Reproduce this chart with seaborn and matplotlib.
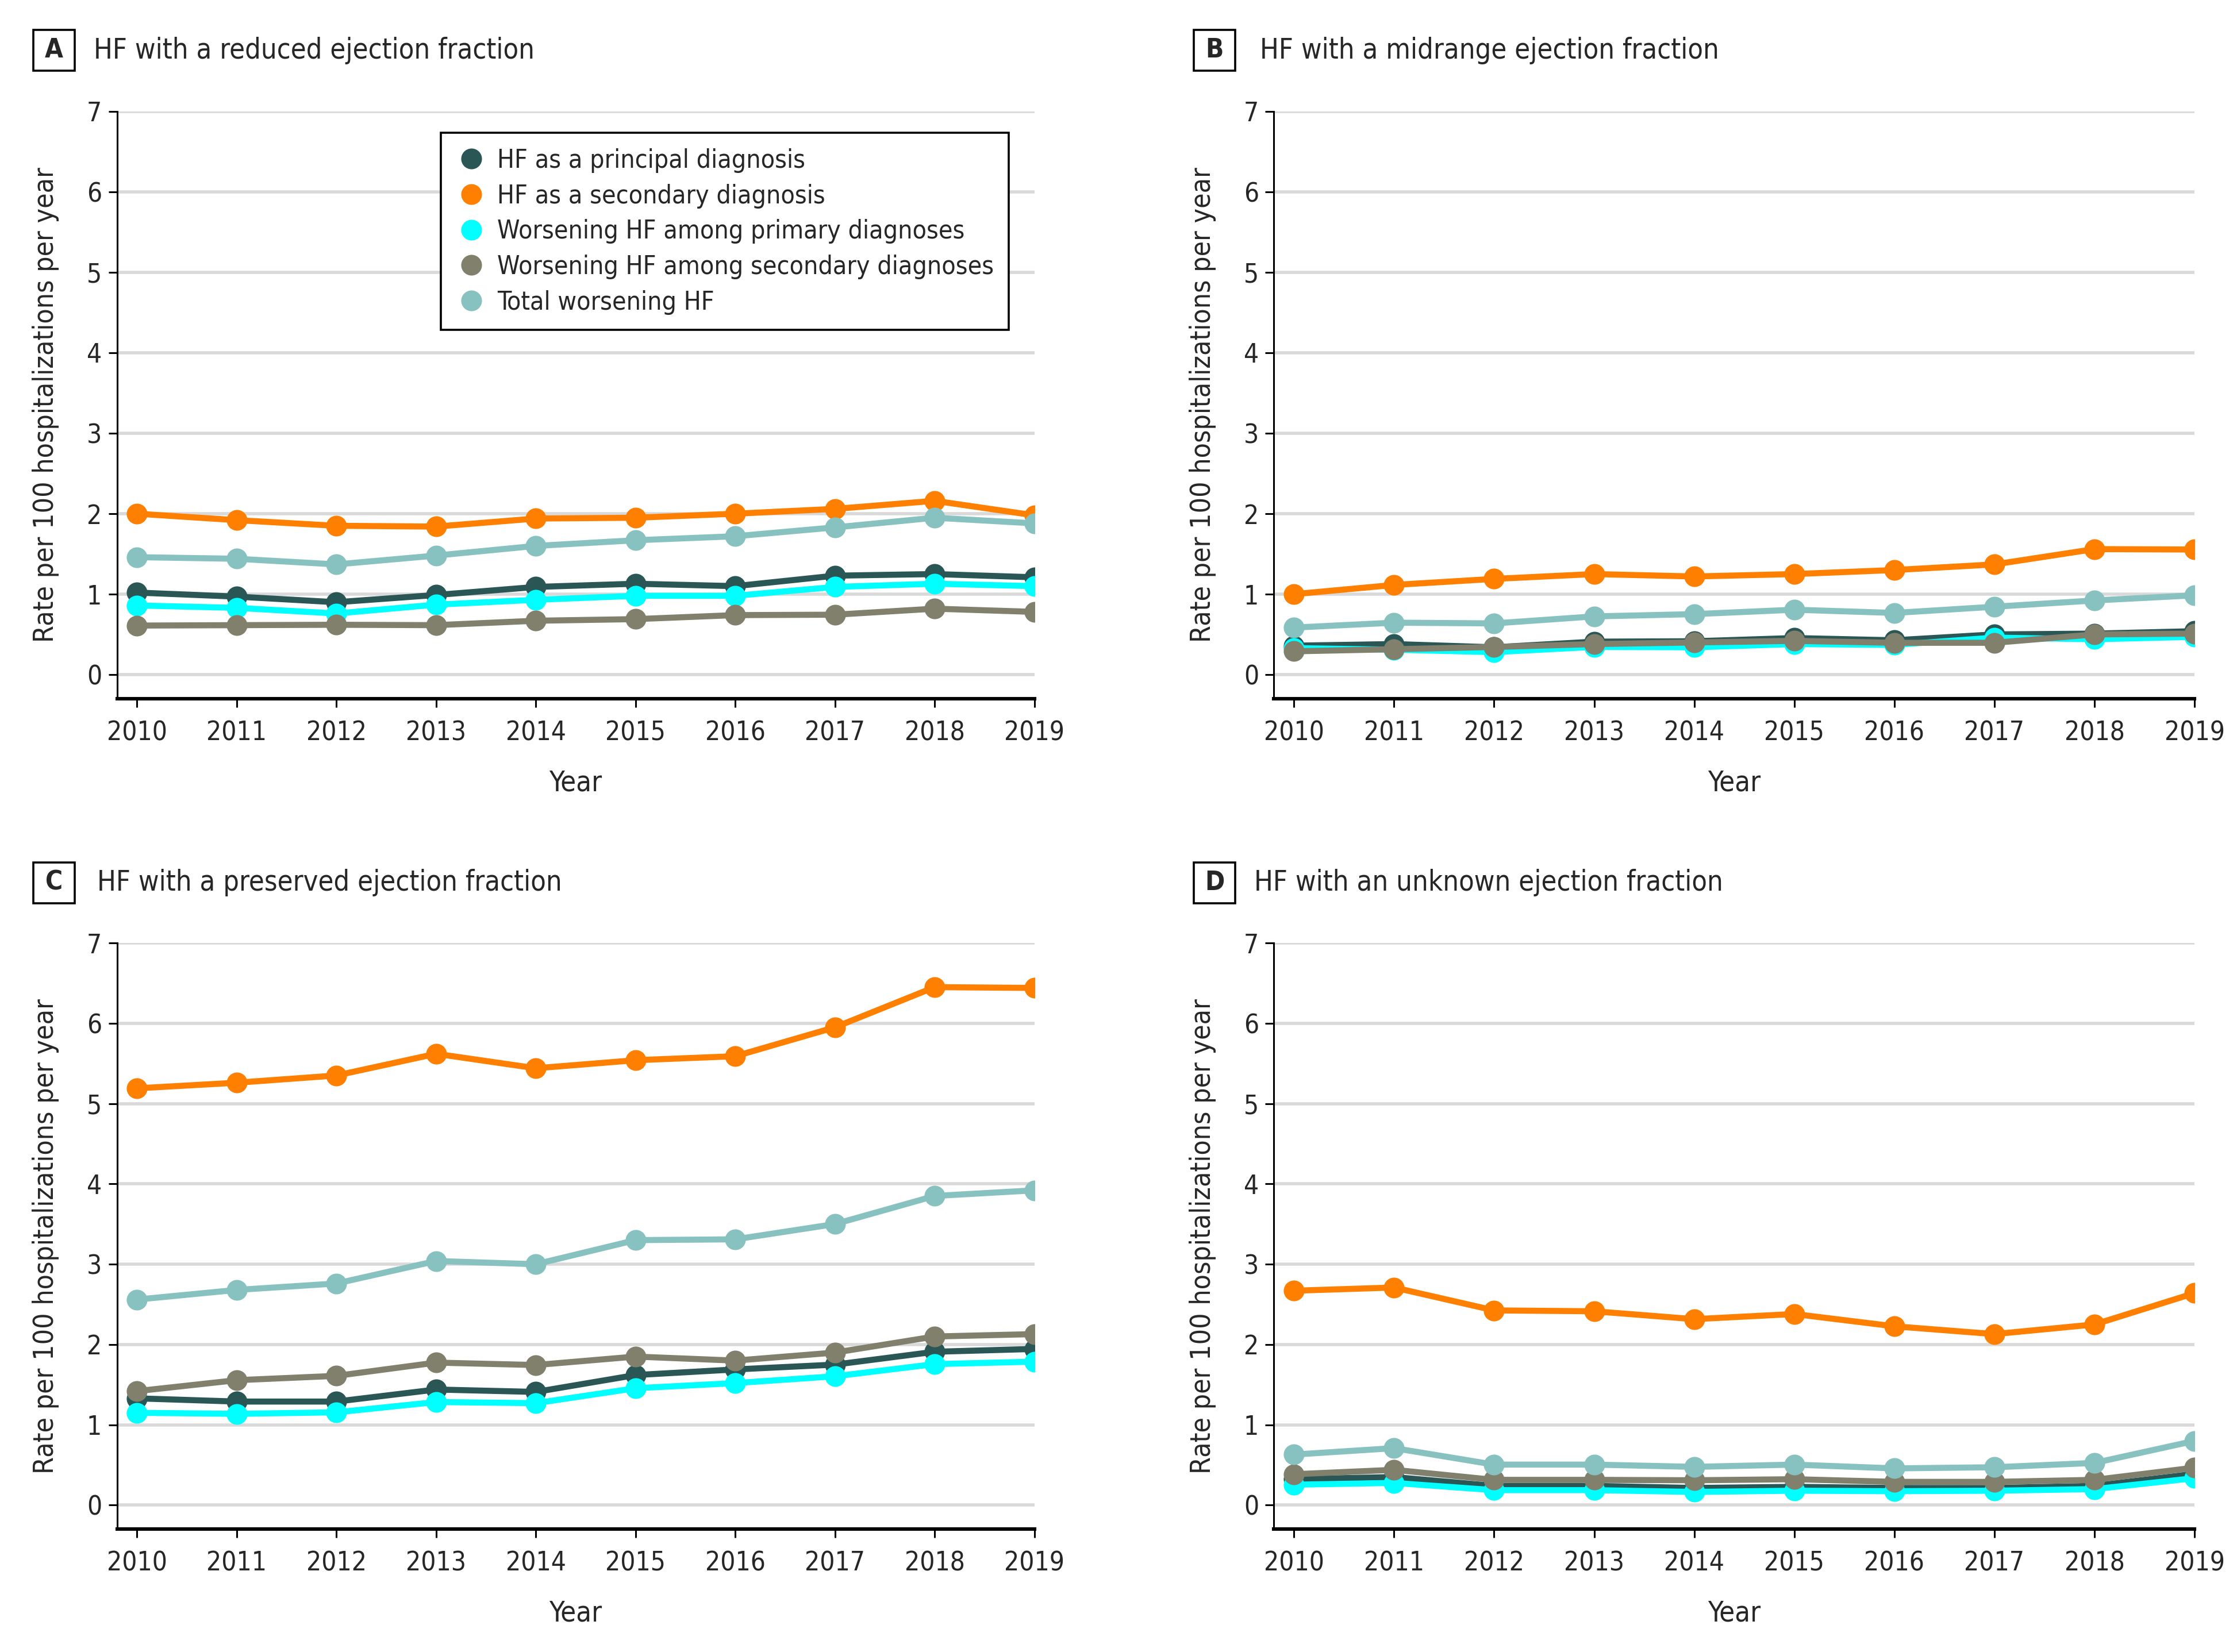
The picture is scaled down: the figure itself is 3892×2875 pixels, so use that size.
import matplotlib
matplotlib.use("Agg")
import matplotlib.pyplot as plt
from matplotlib.lines import Line2D
from matplotlib.patches import Rectangle
import seaborn as sns
import pandas as pd

years = [2010, 2011, 2012, 2013, 2014, 2015, 2016, 2017, 2018, 2019]
series_names = ["HF as a principal diagnosis", "HF as a secondary diagnosis",
                "Worsening HF among primary diagnoses", "Worsening HF among secondary diagnoses",
                "Total worsening HF"]
colors = ["#2a5656", "#ff8000", "#00ffff", "#80806c", "#87c2c0"]

# Panel A: reduced EF
a_principal = [1.02, 0.97, 0.90, 0.99, 1.09, 1.13, 1.10, 1.23, 1.25, 1.21]
a_secondary = [2.00, 1.92, 1.85, 1.84, 1.94, 1.95, 2.00, 2.06, 2.16, 1.98]
a_worse_prim = [0.86, 0.83, 0.76, 0.87, 0.93, 0.98, 0.98, 1.09, 1.13, 1.10]
a_worse_sec = [0.61, 0.615, 0.62, 0.615, 0.67, 0.69, 0.74, 0.745, 0.82, 0.78]
a_total = [1.46, 1.44, 1.37, 1.48, 1.60, 1.67, 1.72, 1.83, 1.95, 1.88]

# Panel B: midrange EF
b_principal = [0.36, 0.38, 0.34, 0.41, 0.415, 0.455, 0.427, 0.50, 0.51, 0.54]
b_secondary = [1.00, 1.115, 1.19, 1.25, 1.22, 1.25, 1.30, 1.37, 1.56, 1.555]
b_worse_prim = [0.33, 0.31, 0.28, 0.345, 0.34, 0.38, 0.37, 0.46, 0.44, 0.47]
b_worse_sec = [0.29, 0.316, 0.344, 0.38, 0.40, 0.42, 0.396, 0.396, 0.50, 0.51]
b_total = [0.585, 0.646, 0.637, 0.724, 0.752, 0.807, 0.767, 0.844, 0.922, 0.986]

# Panel C: preserved EF
c_principal = [1.33, 1.29, 1.29, 1.44, 1.41, 1.62, 1.69, 1.75, 1.91, 1.945]
c_secondary = [5.19, 5.26, 5.35, 5.62, 5.44, 5.54, 5.59, 5.95, 6.45, 6.44]
c_worse_prim = [1.15, 1.137, 1.156, 1.284, 1.27, 1.456, 1.52, 1.605, 1.756, 1.787]
c_worse_sec = [1.42, 1.556, 1.61, 1.775, 1.745, 1.85, 1.80, 1.90, 2.10, 2.13]
c_total = [2.56, 2.68, 2.76, 3.04, 3.00, 3.30, 3.31, 3.50, 3.85, 3.92]

# Panel D: unknown EF
d_principal = [0.323, 0.35, 0.24, 0.24, 0.214, 0.228, 0.214, 0.214, 0.24, 0.39]
d_secondary = [2.67, 2.71, 2.425, 2.414, 2.316, 2.38, 2.227, 2.13, 2.25, 2.64]
d_worse_prim = [0.255, 0.277, 0.187, 0.187, 0.165, 0.18, 0.174, 0.18, 0.20, 0.336]
d_worse_sec = [0.385, 0.44, 0.315, 0.315, 0.31, 0.323, 0.29, 0.29, 0.315, 0.467]
d_total = [0.63, 0.71, 0.505, 0.505, 0.477, 0.505, 0.458, 0.472, 0.526, 0.80]

panel_letters = ["A", "B", "C", "D"]
panel_titles = ["HF with a reduced ejection fraction", "HF with a midrange ejection fraction",
                "HF with a preserved ejection fraction", "HF with an unknown ejection fraction"]
yticks = [0, 1, 2, 3, 4, 5, 6, 7]

panels = [
    [a_principal, a_secondary, a_worse_prim, a_worse_sec, a_total],
    [b_principal, b_secondary, b_worse_prim, b_worse_sec, b_total],
    [c_principal, c_secondary, c_worse_prim, c_worse_sec, c_total],
    [d_principal, d_secondary, d_worse_prim, d_worse_sec, d_total],
]

sns.set_theme(style="white")
plt.rcParams['font.family'] = ['DejaVu Sans']
plt.rcParams['font.stretch'] = 'condensed'

fig = plt.figure(figsize=(19.46, 14.375), dpi=200)
positions = [
    [0.0523, 0.577, 0.4101, 0.3556],
    [0.5695, 0.577, 0.4115, 0.3556],
    [0.0523, 0.0743, 0.4101, 0.3549],
    [0.5695, 0.0743, 0.4115, 0.3549],
]
letter_pos = [(0.02415, 0.9694), (0.5429, 0.9694), (0.02415, 0.4656), (0.5429, 0.4656)]
title_pos = [(0.0419, 0.9694), (0.5632, 0.9694), (0.0435, 0.4656), (0.5606, 0.4656)]
box_w, box_h = 72 / 3892, 71 / 2875

palette = dict(zip(series_names, colors))

for i, data in enumerate(panels):
    ax = fig.add_axes(positions[i])
    rows = []
    for name, vals in zip(series_names, data):
        for yr, v in zip(years, vals):
            rows.append({"Year": yr, "Rate": v, "Series": name})
    df = pd.DataFrame(rows)
    sns.lineplot(data=df, x="Year", y="Rate", hue="Series", hue_order=series_names,
                 palette=palette, marker="o", markersize=13, markeredgewidth=0,
                 linewidth=3.8, ax=ax, legend=False, zorder=3)
    ax.set_xlim(2009.8, 2019.0)
    ax.set_ylim(-0.3, 7.0)
    ax.set_yticks(yticks)
    ax.set_xticks(years)
    ax.set_xticklabels([str(y) for y in years])
    ax.yaxis.grid(True, color="#d9d9d9", linewidth=2.0, zorder=0)
    ax.xaxis.grid(False)
    ax.set_axisbelow(True)
    for s in ["top", "right"]:
        ax.spines[s].set_visible(False)
    ax.spines["left"].set_color("black")
    ax.spines["left"].set_linewidth(1.1)
    ax.spines["bottom"].set_color("black")
    ax.spines["bottom"].set_linewidth(2.2)
    ax.tick_params(axis="x", which="major", direction="out", length=5.5, width=1.1,
                   color="black", labelsize=16.5, pad=8, bottom=True)
    ax.tick_params(axis="y", which="major", direction="out", length=5.5, width=1.1,
                   color="black", labelsize=16.5, pad=4, left=True)
    ax.set_xlabel("Year", fontsize=17.5)
    ax.set_ylabel("Rate per 100 hospitalizations per year", fontsize=17.3)
    ax.xaxis.set_label_coords(0.5, -0.12)
    ax.yaxis.set_label_coords(-0.063, 0.5)

    cx, cy = letter_pos[i]
    fig.patches.append(Rectangle((cx - box_w / 2, cy - box_h / 2), box_w, box_h,
                                 transform=fig.transFigure, fill=False,
                                 edgecolor="black", linewidth=1.3))
    fig.text(cx, cy, panel_letters[i], fontsize=16.5,
             fontweight="bold", ha="center", va="center")
    fig.text(title_pos[i][0], title_pos[i][1], panel_titles[i], fontsize=17.5,
             ha="left", va="center")

    if i == 0:
        handles = [Line2D([0], [0], marker="o", linestyle="none", markersize=13,
                          markerfacecolor=c, markeredgewidth=0) for c in colors]
        leg = ax.legend(handles, series_names, loc="upper left",
                        bbox_to_anchor=(0.339, 0.985), fontsize=16, frameon=True,
                        fancybox=False, edgecolor="black", framealpha=1,
                        handletextpad=0.4, labelspacing=0.42, borderpad=0.6,
                        handlelength=1.2)
        leg.get_frame().set_linewidth(1.3)

fig.savefig("out.png", dpi=200, facecolor="white")
